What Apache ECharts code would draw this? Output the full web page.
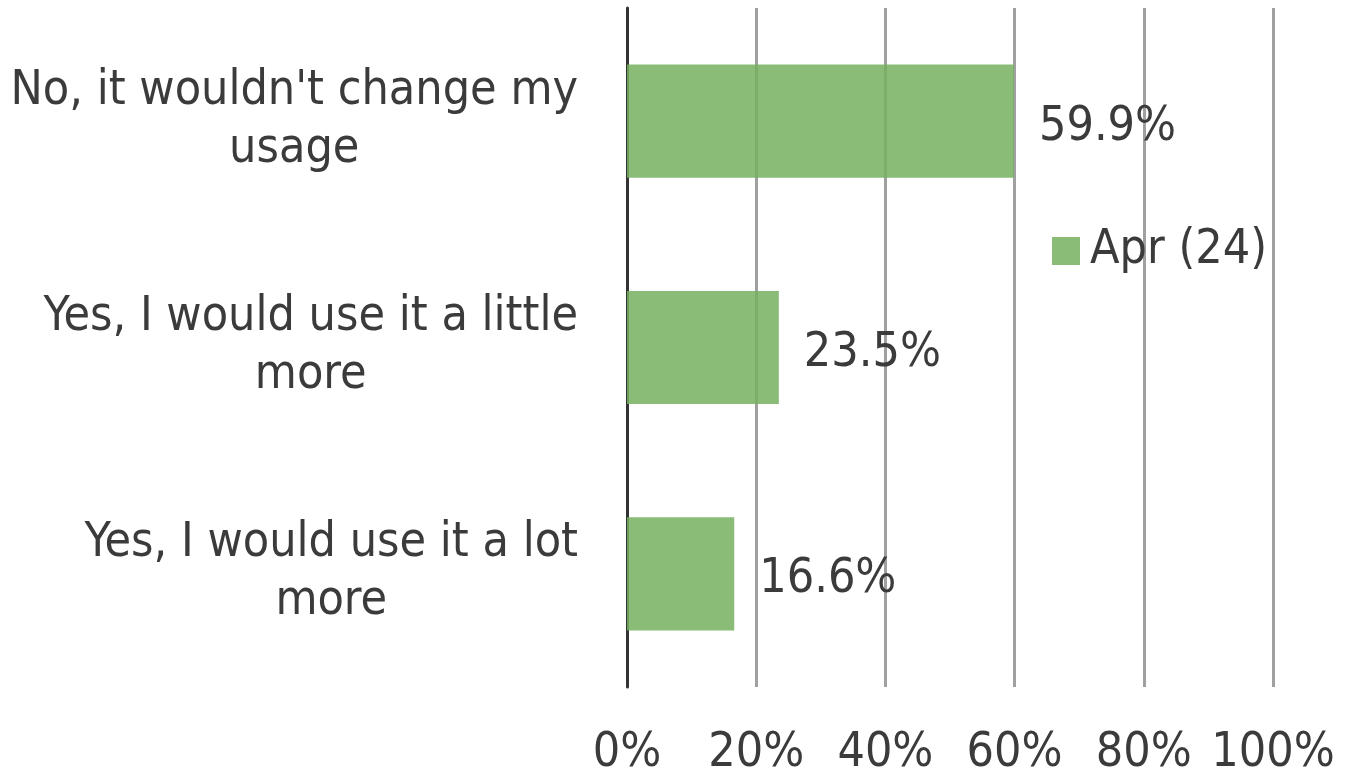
<!DOCTYPE html>
<html>
<head>
<meta charset="utf-8">
<script src="https://cdn.jsdelivr.net/npm/echarts@6/dist/echarts.min.js"></script>
<style>html,body{margin:0;padding:0;background:#fff;}#c{width:1353px;height:778px;}</style>
</head>
<body>
<div id="c"></div>
<script>
const categories = [
  "No, it wouldn't change my\nusage",
  "Yes, I would use it a little\nmore",
  "Yes, I would use it a lot\nmore"
];
const seriesName = "Apr (24)";
const values = [59.9, 23.5, 16.6];
const tickMin = 0, tickMax = 100, tickStep = 20;

const FONT = '"DejaVu Sans Condensed", "DejaVu Sans", sans-serif';
const FS = 48;
const TXT = '#3b3b3b';

const chart = echarts.init(document.getElementById('c'), null, {renderer: 'canvas'});
chart.setOption({
  animation: false,
  backgroundColor: '#fff',
  grid: {left: 627, right: 80, top: 8, bottom: 90, containLabel: false},
  legend: {
    data: [seriesName],
    left: 1047, top: 222,
    itemWidth: 28, itemHeight: 28, icon: 'rect',
    textStyle: {fontFamily: FONT, fontSize: FS, color: TXT, padding: [0, 0, 0, 5]}
  },
  xAxis: {
    type: 'value', min: tickMin, max: tickMax, interval: tickStep,
    axisLine: {show: false}, axisTick: {show: false},
    splitLine: {show: true, lineStyle: {color: '#a0a0a0', width: 3}},
    axisLabel: {formatter: '{value}%', fontFamily: FONT, fontSize: FS, color: TXT, margin: 43}
  },
  yAxis: {
    type: 'category', data: categories, inverse: true,
    axisLine: {show: true, lineStyle: {color: '#333', width: 3}},
    axisTick: {show: false},
    axisLabel: {
      margin: 49, align: 'right', padding: [0, 0, 2, 0],
      formatter: v => v.split('\n').map(l => '{c|' + l + '}').join('\n'),
      rich: {c: {align: 'center', fontFamily: FONT, fontSize: FS, color: TXT, lineHeight: 58}}
    }
  },
  series: [{
    name: seriesName, type: 'bar', data: values, barWidth: '50%',
    itemStyle: {color: 'rgba(118,176,96,0.85)'},
    label: {show: true, position: 'right', distance: 25, formatter: p => p.value.toFixed(1) + '%',
      fontFamily: FONT, fontSize: FS, color: TXT, offset: [0, 6]}
  }]
});
</script>
</body>
</html>
